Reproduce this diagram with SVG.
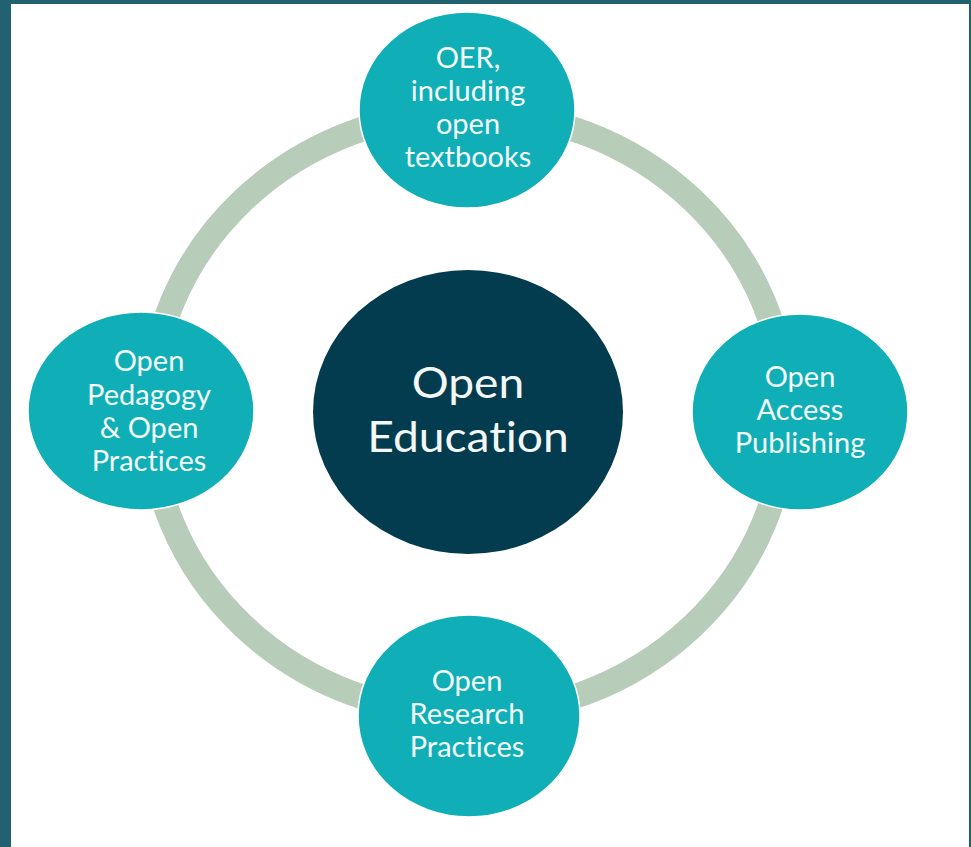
<svg xmlns="http://www.w3.org/2000/svg" width="971" height="847" viewBox="0 0 971 847">
  <style>
    .frame { fill: #22616f; }
    .ring { fill: none; stroke: #b8cdb9; stroke-width: 25; }
    .sat { fill: #10aeb7; stroke: #ffffff; stroke-width: 1.5; }
    .hub { fill: #023c4e; }
    text { font-variant-ligatures: none; font-feature-settings: "liga" 0; }
    .lbl { font-family: Lato, "Open Sans", "Liberation Sans", sans-serif; font-size: 29px; fill: #f4fbfb; text-anchor: middle; }
    .hubtxt { font-family: Lato, "Open Sans", "Liberation Sans", sans-serif; font-size: 42px; fill: #f4f7f8; text-anchor: middle; }
  </style>
  <rect x="0" y="0" width="971" height="847" fill="#ffffff"/>
  <rect class="frame" x="0" y="0" width="971" height="4"/>
  <rect class="frame" x="0" y="0" width="11" height="847"/>
  <rect class="frame" x="969" y="0" width="2" height="847"/>

  <g id="connectors">
    <ellipse class="ring" cx="468" cy="413" rx="318" ry="301"/>
  </g>

  <g id="node-center">
    <ellipse class="hub" cx="468" cy="412" rx="155" ry="142"/>
    <g transform="translate(468,0) scale(1.1,1)">
      <text class="hubtxt" x="0" y="398">Open</text>
      <text class="hubtxt" x="0" y="452">Education</text>
    </g>
  </g>

  <g id="node-oer">
    <ellipse class="sat" cx="467" cy="110" rx="108" ry="98"/>
    <text class="lbl" x="468" y="68">OER,</text>
    <text class="lbl" x="468" y="101">including</text>
    <text class="lbl" x="468" y="134">open</text>
    <text class="lbl" x="468" y="167">textbooks</text>
  </g>

  <g id="node-access">
    <ellipse class="sat" cx="800" cy="412" rx="108" ry="98"/>
    <text class="lbl" x="800" y="387">Open</text>
    <text class="lbl" x="800" y="420">Access</text>
    <text class="lbl" x="800" y="453">Publishing</text>
  </g>

  <g id="node-pedagogy">
    <ellipse class="sat" cx="141" cy="411" rx="113" ry="99"/>
    <text class="lbl" x="149" y="371">Open</text>
    <text class="lbl" x="149" y="405">Pedagogy</text>
    <text class="lbl" x="149" y="438">&amp; Open</text>
    <text class="lbl" x="149" y="471">Practices</text>
  </g>

  <g id="node-research">
    <ellipse class="sat" cx="469" cy="716" rx="111" ry="101"/>
    <text class="lbl" x="467" y="691">Open</text>
    <text class="lbl" x="467" y="724">Research</text>
    <text class="lbl" x="467" y="757">Practices</text>
  </g>
</svg>
